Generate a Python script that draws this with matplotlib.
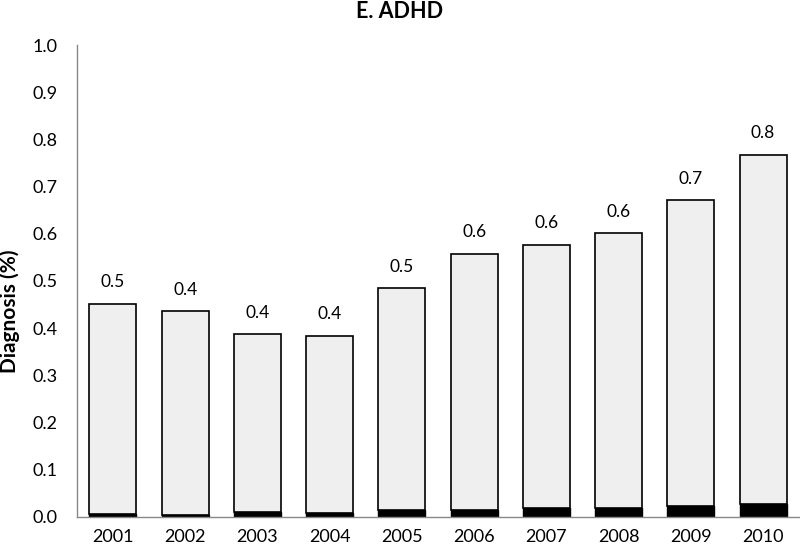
import numpy as np
import matplotlib.pyplot as plt

plt.rcParams['font.family'] = ['Lato', 'DejaVu Sans']

# -------------------
# Data
# -------------------
years = ["2001", "2002", "2003", "2004", "2005", "2006", "2007", "2008", "2009", "2010"]
total = [0.452, 0.436, 0.387, 0.384, 0.484, 0.558, 0.577, 0.602, 0.671, 0.768]
black_part = [0.006, 0.003, 0.011, 0.008, 0.015, 0.015, 0.018, 0.018, 0.023, 0.026]

gray_part = [t - b for t, b in zip(total, black_part)]
x = np.arange(len(years))

# -------------------
# Plot
# -------------------
fig = plt.figure(figsize=(8, 5.5), dpi=100)
ax = fig.add_axes([0.096, 0.0605, 0.903, 0.8575])

ax.bar(x, black_part, width=0.65, color="black", edgecolor="black", linewidth=1.0)
ax.bar(x, gray_part, bottom=black_part, width=0.65, color="#efefef",
       edgecolor="black", linewidth=1.2)

for xi, t in zip(x, total):
    ax.text(xi, t + 0.028, f"{t:.1f}", ha="center", va="bottom", fontsize=12.5)

ax.set_xlim(-0.5, 9.5)
ax.set_ylim(0, 1.0)
ax.set_xticks(x)
ax.set_xticklabels(years)
ax.set_yticks(np.arange(0, 1.01, 0.1))
ax.set_yticklabels([f"{v:.1f}" for v in np.arange(0, 1.01, 0.1)])
ax.tick_params(axis="both", length=0, labelsize=13)
ax.tick_params(axis="y", pad=14)
ax.tick_params(axis="x", pad=9)

for s in ["top", "right"]:
    ax.spines[s].set_visible(False)
for s in ["left", "bottom"]:
    ax.spines[s].set_color("#888888")
    ax.spines[s].set_linewidth(1.0)

ax.set_ylabel("Diagnosis (%)", fontsize=15, fontweight="bold")
ax.yaxis.set_label_coords(-0.078, 0.436)
fig.text(0.5, 0.999, "E. ADHD", ha="center", va="top", fontsize=15.5, fontweight="bold")

fig.savefig("out.png", dpi=100)
